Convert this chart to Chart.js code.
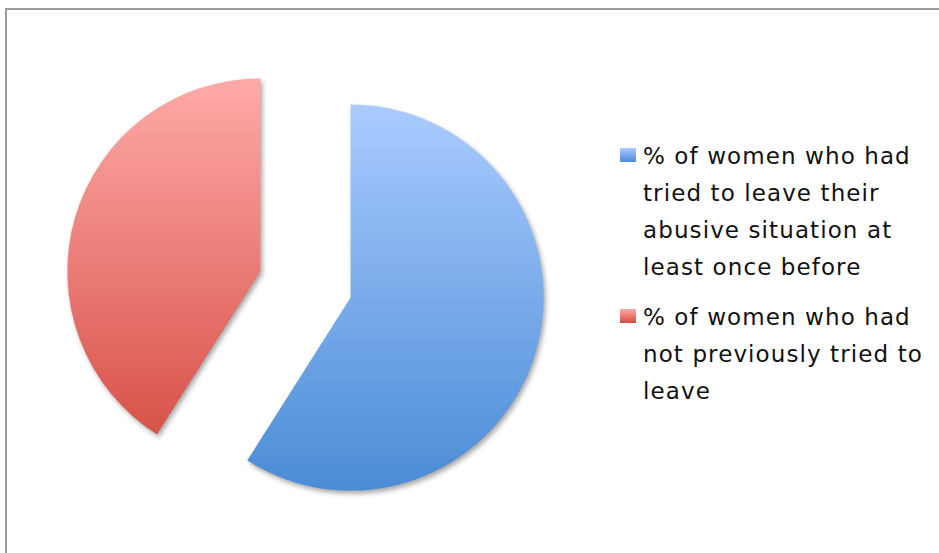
<!DOCTYPE html>
<html>
<head>
<meta charset="utf-8">
<script src="https://cdn.jsdelivr.net/npm/chart.js@4/dist/chart.umd.min.js"></script>
<style>
  html, body { margin: 0; padding: 0; background: #fff; overflow: hidden; }
  #frame {
    position: absolute; left: 5px; top: 8px; width: 960px; height: 600px;
    border: 2px solid #9a9a9a; box-sizing: border-box;
  }
  #wrap { position: absolute; left: 5px; top: 17px; width: 601px; height: 535px; }
  #legend {
    position: absolute; left: 620px; top: 138px; width: 330px;
    font-family: "DejaVu Sans", sans-serif; font-size: 23px; line-height: 37px;
    letter-spacing: 1.1px; color: #111;
  }
  .item { position: relative; padding-left: 23px; margin-bottom: 13px; }
  .box { position: absolute; left: 0; top: 10px; width: 16px; height: 14px; }
</style>
</head>
<body>
<div id="frame"></div>
<div id="wrap"><canvas id="pieChart"></canvas></div>
<div id="legend"></div>
<script>
// chart data
const labels = [
  ['% of women who had', 'tried to leave their', 'abusive situation at', 'least once before'],
  ['% of women who had', 'not previously tried to', 'leave']
];
const values = [59, 41];
const topColors = ['#aacbff', '#ffaaa8'];
const bottomColors = ['#4a8cd6', '#d44b41'];

const radius = 193;
const explode = 47; // pixels each slice is pulled out from the centre

function midAngle(i) {
  const total = values.reduce((a, b) => a + b, 0);
  let start = 0;
  for (let k = 0; k < i; k++) start += values[k];
  return (start + values[i] / 2) / total * 2 * Math.PI - Math.PI / 2;
}

function sliceGradient(ctx) {
  const chart = ctx.chart;
  const area = chart.chartArea;
  const i = ctx.dataIndex;
  if (!area) return topColors[i];
  const cy = (area.top + area.bottom) / 2 + Math.sin(midAngle(i)) * explode;
  const g = chart.ctx.createLinearGradient(0, cy - radius, 0, cy + radius);
  g.addColorStop(0, topColors[i]);
  g.addColorStop(1, bottomColors[i]);
  return g;
}

// pull slices out by moving their centres (chart.js offset also trims/grows arcs)
const explodePlugin = {
  id: 'explode',
  afterDatasetUpdate(chart, args) {
    args.meta.data.forEach(arc => {
      const mid = (arc.startAngle + arc.endAngle) / 2;
      arc.x += Math.cos(mid) * explode;
      arc.y += Math.sin(mid) * explode;
    });
  }
};

const shadowPlugin = {
  id: 'shadow',
  beforeDatasetsDraw(chart) {
    const c = chart.ctx;
    c.save();
    c.shadowColor = 'rgba(0,0,0,0.35)';
    c.shadowBlur = 5;
    c.shadowOffsetX = 2;
    c.shadowOffsetY = 3;
  },
  afterDatasetsDraw(chart) {
    chart.ctx.restore();
  }
};

const pieChart = new Chart(document.getElementById('pieChart'), {
  type: 'pie',
  data: {
    labels: labels,
    datasets: [{
      data: values,
      backgroundColor: sliceGradient,
      borderWidth: 0
    }]
  },
  options: {
    responsive: true,
    maintainAspectRatio: false,
    animation: false,
    radius: radius,
    layout: { padding: 0 },
    plugins: {
      legend: { display: false },
      tooltip: { enabled: false }
    }
  },
  plugins: [explodePlugin, shadowPlugin]
});

// html legend
const legendEl = document.getElementById('legend');
labels.forEach((lines, i) => {
  const item = document.createElement('div');
  item.className = 'item';
  const box = document.createElement('span');
  box.className = 'box';
  box.style.background = `linear-gradient(${topColors[i]}, ${bottomColors[i]})`;
  item.appendChild(box);
  lines.forEach(line => {
    const d = document.createElement('div');
    d.textContent = line;
    item.appendChild(d);
  });
  legendEl.appendChild(item);
});
</script>
</body>
</html>
